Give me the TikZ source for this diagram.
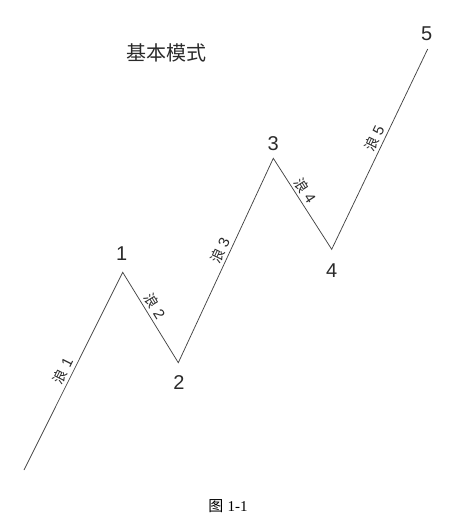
\documentclass[tikz,border=0pt]{standalone}
\usepackage{fontspec}
\setmainfont{Liberation Sans}
\newfontfamily\cjk{Noto Sans CJK SC}
\newfontfamily\serifnum{Liberation Serif}
\definecolor{linegray}{HTML}{444444}
\definecolor{textgray}{HTML}{2A2A2A}
\newcommand{\wavetext}[1]{{\cjk\fontsize{14}{14}\selectfont 浪}\hspace{4pt}#1}
\begin{document}
\begin{tikzpicture}[x=1pt,y=-1pt,
  wave/.style={draw=linegray,line width=0.75pt},
  ptlabel/.style={font=\fontsize{20}{20}\selectfont,text=textgray,inner sep=0pt},
  wavelabel/.style={font=\fontsize{15}{15}\selectfont,text=textgray,sloped,above,inner sep=2.5pt},
  title/.style={font=\cjk\fontsize{20}{20}\selectfont,text=textgray,inner sep=0pt},
  caption/.style={font=\fontsize{15}{15}\selectfont,text=black,inner sep=0pt}]
\useasboundingbox (0,0) rectangle (457,532);
\coordinate (p0) at (24,470);
\coordinate (p1) at (122.7,272.3);
\coordinate (p2) at (178.3,362.7);
\coordinate (p3) at (273.3,158.3);
\coordinate (p4) at (331.7,249.3);
\coordinate (p5) at (427.7,49);
\draw[wave] (p0) -- node[wavelabel,pos=0.48] (w1) {\wavetext{1}} (p1)
  -- node[wavelabel,pos=0.43] (w2) {\wavetext{2}} (p2)
  -- node[wavelabel,pos=0.53] (w3) {\wavetext{3}} (p3)
  -- node[wavelabel,pos=0.41] (w4) {\wavetext{4}} (p4)
  -- node[wavelabel,pos=0.535] (w5) {\wavetext{5}} (p5);
\node[ptlabel] (l1) at (121.7,253.3) {1};
\node[ptlabel] (l2) at (179,383) {2};
\node[ptlabel] (l3) at (273.3,144) {3};
\node[ptlabel] (l4) at (331.7,270.7) {4};
\node[ptlabel] (l5) at (426.7,33.3) {5};
\node[title] (t) at (166.7,53.3) {基本模式};
\node[caption] (c) at (228,506) {{\cjk 图} {\serifnum 1-1}};
\end{tikzpicture}
\end{document}
